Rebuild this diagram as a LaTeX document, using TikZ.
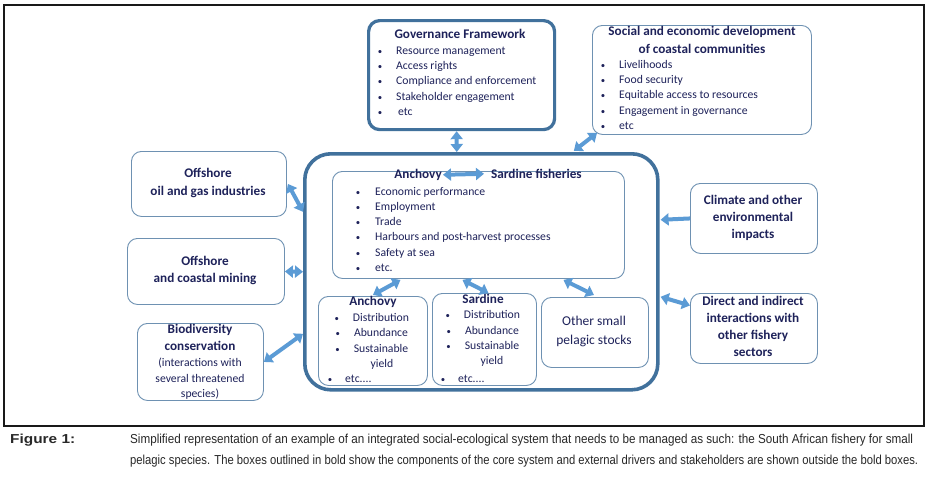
\documentclass[tikz,border=0pt]{standalone}
\usepackage{fontspec}
\usepackage{graphicx}
\setmainfont{Carlito}
\newfontfamily\capfont{Liberation Sans}
\usetikzlibrary{arrows.meta,calc}
\definecolor{navy}{RGB}{30,34,90}
\definecolor{boldblue}{RGB}{65,113,156}
\definecolor{thinblue}{RGB}{110,145,178}
\definecolor{arrblue}{RGB}{91,155,213}
\definecolor{capgray}{RGB}{40,40,40}
\newcommand\bl[1][14pt]{\llap{\scalebox{0.75}{\textbullet}\hspace{#1}}}
\tikzset{
  boldbox/.style={draw=boldblue, line width=3.2pt, rounded corners=11pt, inner sep=0pt, anchor=north west},
  corebox/.style={draw=boldblue, line width=3.6pt, rounded corners=26pt, inner sep=0pt, anchor=north west},
  thinbox/.style={draw=thinblue, line width=0.9pt, rounded corners=10pt, inner sep=0pt, anchor=north west},
  txt/.style={inner sep=0pt, text=navy, font=\fontsize{11.7}{13}\selectfont},
  btxt/.style={inner sep=0pt, text=navy, font=\fontsize{13.2}{15}\selectfont\bfseries},
  dbl/.style={draw=arrblue, line width=4pt, >={Triangle[width=12pt,length=8pt]}, <->},
  sgl/.style={draw=arrblue, line width=4pt, >={Triangle[width=12pt,length=8pt]}, ->},
  capt/.style={inner sep=0pt, text=capgray, font=\capfont\fontsize{13}{15}\selectfont, anchor=mid west},
  frame/.style={draw=black!90, line width=1.4pt}
}
\begin{document}
\begin{tikzpicture}[x=1pt,y=-1pt]
\useasboundingbox (0,0) rectangle (932,479);
\fill[white] (0,0) rectangle (932,479);
\draw[frame] (4,5) rectangle (924,426);

% boxes
\node[boldbox, minimum width=186pt, minimum height=109pt] (gov) at (367,19) {};
\node[thinbox, minimum width=219pt, minimum height=109pt] (soc) at (592,25) {};
\node[thinbox, minimum width=155pt, minimum height=65pt] (oil) at (131,151) {};
\node[thinbox, minimum width=157pt, minimum height=66pt] (mine) at (127,238) {};
\node[thinbox, minimum width=126pt, minimum height=77pt] (bio) at (137,323) {};
\node[corebox, minimum width=353pt, minimum height=236pt] (core) at (303,152) {};
\node[thinbox, minimum width=292pt, minimum height=107pt] (fis) at (332,171) {};
\node[thinbox, minimum width=109pt, minimum height=89pt] (anc) at (318,296) {};
\node[thinbox, minimum width=104pt, minimum height=92pt] (sar) at (432,293) {};
\node[thinbox, minimum width=107pt, minimum height=70pt] (oth) at (541,297) {};
\node[thinbox, minimum width=127pt, minimum height=70pt] (clim) at (690,183) {};
\node[thinbox, minimum width=127pt, minimum height=70pt] (dir) at (690,293) {};

% governance
\node[btxt, anchor=mid] (govt) at (460,36) {Governance Framework};
\foreach \t [count=\i] in {Resource management,Access rights,Compliance and enforcement,Stakeholder engagement,\,etc}
  \node[txt, anchor=mid west] (gov\i) at (396,{52+(\i-1)*15.25}) {\bl\t};

% social
\node[btxt, anchor=mid] (soct1) at (702,33) {Social and economic development};
\node[btxt, anchor=mid] (soct2) at (702,51) {of coastal communities};
\foreach \t [count=\i] in {Livelihoods,Food security,Equitable access to resources,Engagement in governance,etc}
  \node[txt, anchor=mid west] (soc\i) at (619,{66+(\i-1)*15.25}) {\bl\t};

% offshore oil
\node[btxt, anchor=mid] (oil1) at (208,175) {Offshore};
\node[btxt, anchor=mid] (oil2) at (208,193) {oil and gas industries};
% mining
\node[btxt, anchor=mid] (mine1) at (205,263) {Offshore};
\node[btxt, anchor=mid] (mine2) at (205,280) {and coastal mining};
% biodiversity
\node[btxt, anchor=mid] (bio1) at (200,331) {Biodiversity};
\node[btxt, anchor=mid] (bio2) at (200,348) {conservation};
\node[txt, anchor=mid] (bio3) at (200,364) {(interactions with};
\node[txt, anchor=mid] (bio4) at (200,380) {several threatened};
\node[txt, anchor=mid] (bio5) at (200,395) {species)};

% climate
\node[btxt, anchor=mid] (clim1) at (753,202) {Climate and other};
\node[btxt, anchor=mid] (clim2) at (753,219) {environmental};
\node[btxt, anchor=mid] (clim3) at (753,236) {impacts};
% direct
\node[btxt, anchor=mid] (dir1) at (753,303) {Direct and indirect};
\node[btxt, anchor=mid] (dir2) at (753,320) {interactions with};
\node[btxt, anchor=mid] (dir3) at (753,337) {other fishery};
\node[btxt, anchor=mid] (dir4) at (753,354) {sectors};

% fisheries
\node[btxt, anchor=mid east] (fanc) at (442,176) {Anchovy};
\node[btxt, anchor=mid west] (fsar) at (491,176) {Sardine fisheries};
\foreach \t [count=\i] in {Economic performance,Employment,Trade,Harbours and post-harvest processes,Safety at sea,etc.}
  \node[txt, anchor=mid west] (fis\i) at (375,{193+(\i-1)*15.2}) {\bl[15pt]\t};

% anchovy stock
\node[btxt, anchor=mid] (anct) at (373,303) {Anchovy};
\node[txt, anchor=mid] (anc1) at (381,319) {\bl Distribution};
\node[txt, anchor=mid] (anc2) at (381,334) {\bl Abundance};
\node[txt, anchor=mid] (anc3) at (381,350) {\bl Sustainable};
\node[txt, anchor=mid] (anc4) at (382,365) {yield};
\node[txt, anchor=mid west] (anc5) at (345,380) {\bl[13pt]etc....};

% sardine stock
\node[btxt, anchor=mid] (sart) at (483,301) {Sardine};
\node[txt, anchor=mid] (sar1) at (492,316) {\bl Distribution};
\node[txt, anchor=mid] (sar2) at (492,332) {\bl Abundance};
\node[txt, anchor=mid] (sar3) at (492,347) {\bl Sustainable};
\node[txt, anchor=mid] (sar4) at (492,362) {yield};
\node[txt, anchor=mid west] (sar5) at (458,380) {\bl[13pt]etc....};

% other stocks
\node[txt, font=\fontsize{13.5}{15}\selectfont, anchor=mid] (oth1) at (594,323) {Other small};
\node[txt, font=\fontsize{13.5}{15}\selectfont, anchor=mid] (oth2) at (594,342) {pelagic stocks};

% arrows
\draw[dbl] ($(gov.south)+(-5,0)$) -- ($(core.north)+(-24.5,0)$);
\draw[dbl] ($(soc.south west)+(5,-2)$) -- ($(core.north)+(92.5,-1)$);
\draw[dbl] ($(fanc.east)+(1,0)$) -- ($(fsar.west)+(-7,0)$);
\draw[dbl] ($(oil.east)+(1,0)$) -- ($(core.west)+(0,-60)$);
\draw[dbl] (mine.east) -- (core.west);
\draw[dbl] (bio.east) -- ($(core.west)+(0,62)$);
\draw[sgl] (clim.west) -- ($(core.east)+(1,-52)$);
\draw[dbl] ($(core.east)+(1,25)$) -- ($(dir.west)+(0,-23)$);
\draw[dbl] ($(fis.south)+(-78,1)$) -- ($(anc.north)+(0,-1)$);
\draw[dbl] ($(fis.south)+(-16,1)$) -- ($(sar.north)+(4,0)$);
\draw[dbl] ($(fis.south)+(85,1)$) -- ($(oth.north)+(-1,-2)$);

% caption
\node[capt] (figlab) at (10,441) {\resizebox{65pt}{\height}{\bfseries Figure 1:}};
\node[capt] (cap1) at (130,441) {\resizebox{783pt}{\height}{Simplified representation of an example of an integrated social-ecological system that needs to be managed as such: the South African fishery for small}};
\node[capt] (cap2) at (130,462) {\resizebox{788pt}{\height}{pelagic species. The boxes outlined in bold show the components of the core system and external drivers and stakeholders are shown outside the bold boxes.}};
\end{tikzpicture}
\end{document}
